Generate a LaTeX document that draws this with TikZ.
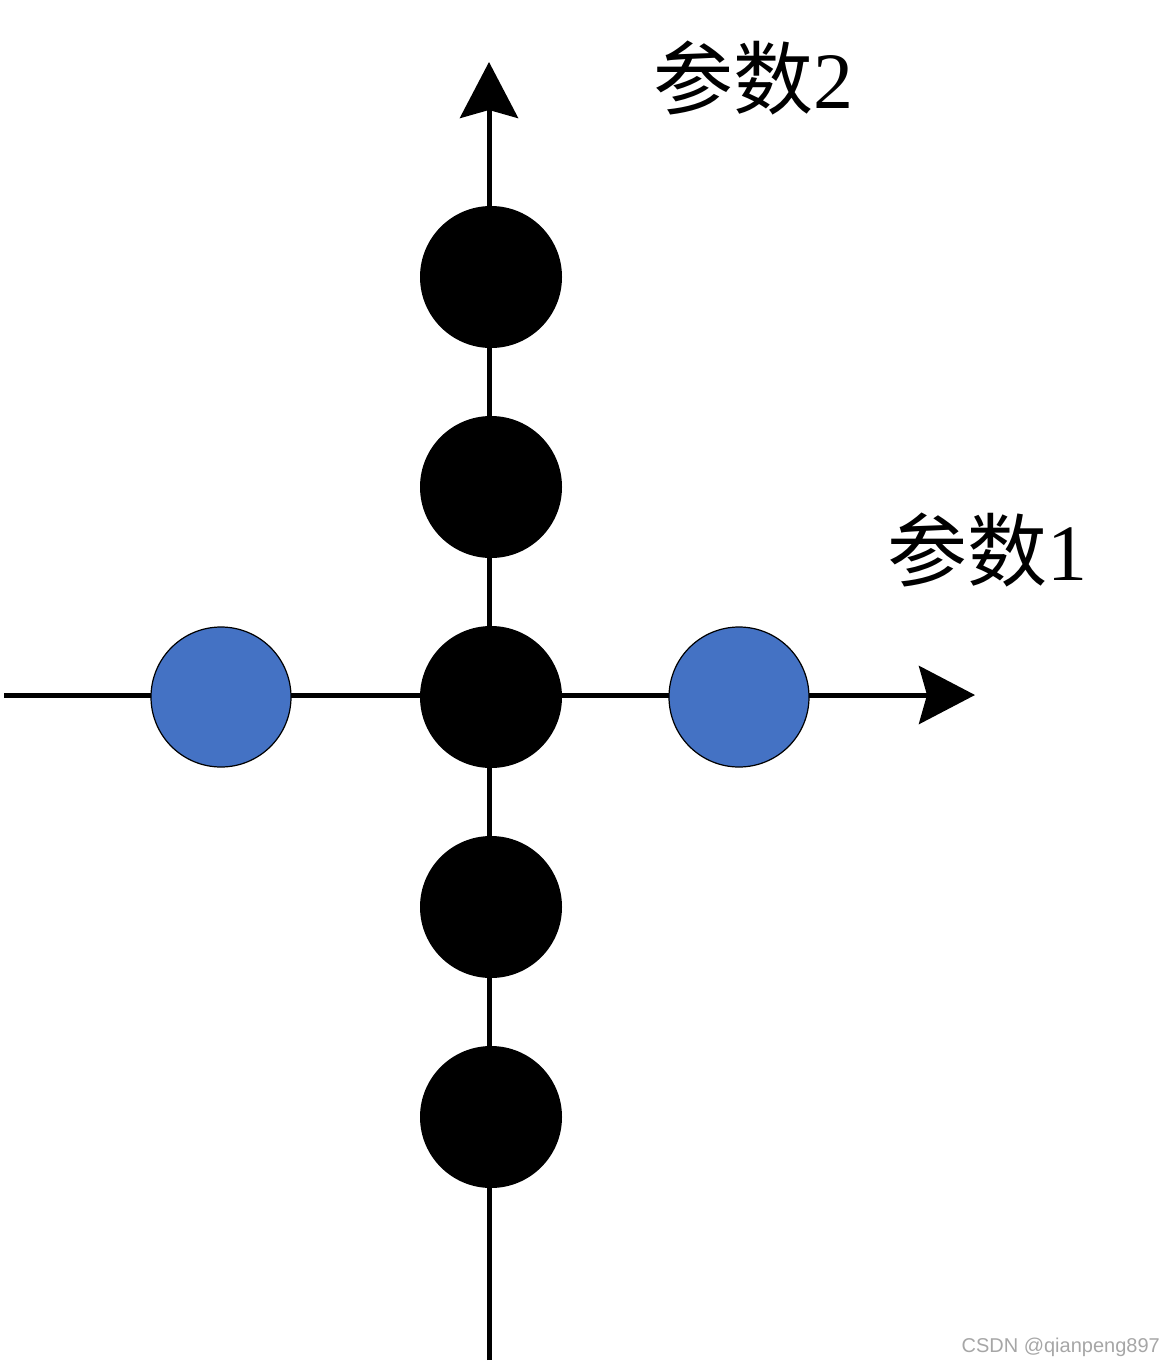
\documentclass[tikz,border=0pt]{standalone}
\usepackage{fontspec}
\setmainfont{Liberation Serif}
\newfontfamily\cjk{Noto Sans CJK SC}
\setsansfont{Liberation Sans}
\usetikzlibrary{arrows.meta}
\definecolor{myblue}{HTML}{4472C4}
\begin{document}
\begin{tikzpicture}[x=1pt,y=-1pt,
  ax/.style={line width=5pt,-{Stealth[length=56pt,width=58pt,inset=8pt]}},
  bdot/.style={circle,fill=black,minimum size=142pt,inner sep=0pt},
  udot/.style={circle,fill=myblue,draw=black,line width=1.2pt,minimum size=140pt,inner sep=0pt},
  lab/.style={font=\fontsize{80}{80}\selectfont,inner sep=0pt}]
\useasboundingbox (0,0) rectangle (1165,1365);
\coordinate (vb) at (489,1360);
\coordinate (vt) at (489,62);
\coordinate (hl) at (4,695);
\coordinate (hr) at (975,695);
\draw[ax] (vb) -- (vt);
\draw[ax] (hl) -- (hr);
\foreach \n/\y in {a/277,b/487,c/697,d/907,e/1117}
  \node[bdot] (\n) at (491,\y) {};
\node[udot] (l) at (221,697) {};
\node[udot] (r) at (739,697) {};
\node[lab] (t2) at (753,78) {{\cjk 参数}2};
\node[lab] (t1) at (987,550) {{\cjk 参数}1};
\node[font=\sffamily\fontsize{20}{20}\selectfont,text=gray!70,anchor=south east,inner sep=0pt] (wm) at (1160,1357) {CSDN @qianpeng897};
\end{tikzpicture}
\end{document}
